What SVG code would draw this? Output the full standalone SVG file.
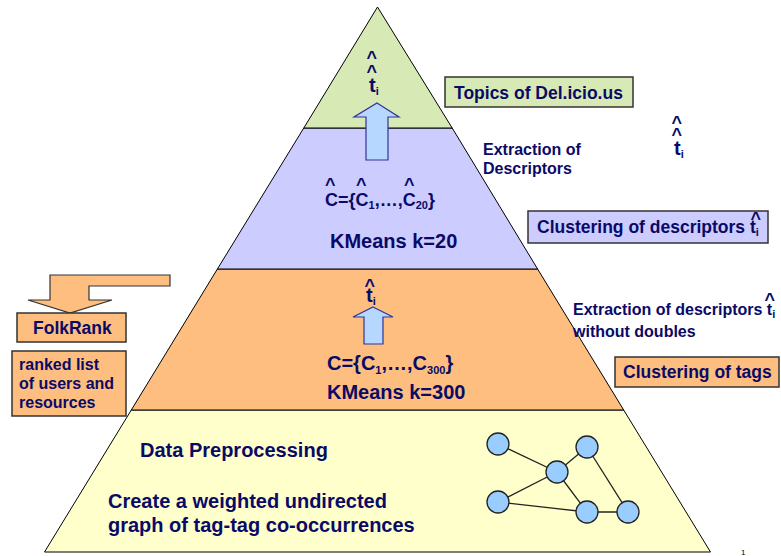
<svg xmlns="http://www.w3.org/2000/svg" width="781" height="556" viewBox="0 0 781 556">
<defs>
<style>
text{font-family:"Liberation Sans",Arial,sans-serif;font-weight:bold;fill:#0a0a66}
.layer{stroke:#000;stroke-width:1}
.box{stroke:#333;stroke-width:1.5}
.barrow{fill:#b6d7ff;stroke:#333399;stroke-width:1.2}
.lbl{font-size:17.5px}
.sm{font-size:16px}
.big{font-size:20px}
.hat{font-size:18px}
.sub{font-size:11px}
.edge{stroke:#222;stroke-width:1.3;fill:none}
.gnode{fill:#99ccff;stroke:#222;stroke-width:1.3}
</style>
</defs>
<rect width="781" height="556" fill="#fff"/>

<g id="layer-yellow">
<polygon class="layer" points="131.3,410 623.7,410 710.5,552 44.5,552" fill="#ffffcc"/>
<text class="big" x="140" y="457">Data Preprocessing</text>
<text class="big" x="108" y="508">Create a weighted undirected</text>
<text class="big" x="108" y="532">graph of tag-tag co-occurrences</text>
</g>

<g id="layer-orange">
<polygon class="layer" points="217.4,269 537.6,269 623.7,410 131.3,410" fill="#fdbe80"/>
<text class="big"><tspan class="hat" x="364.5" y="292">^</tspan><tspan x="366" y="302">t</tspan><tspan class="sub" dy="3">i</tspan></text>
<path class="barrow" d="M373,307 L393,317 L383,317 L383,344 L364,344 L364,317 L353,317 Z"/>
<text class="big" x="327" y="370">C={C<tspan class="sub" dy="4">1</tspan><tspan dy="-4">,…,C</tspan><tspan class="sub" dy="4">300</tspan><tspan dy="-4">}</tspan></text>
<text class="big" x="327" y="399">KMeans k=300</text>
</g>

<g id="layer-purple">
<polygon class="layer" points="303.8,128 452.2,128 537.6,269 217.4,269" fill="#ccccff"/>
<text style="font-size:18px"><tspan class="hat" x="325" y="191">^</tspan><tspan class="hat" x="356" y="191">^</tspan><tspan class="hat" x="404" y="191">^</tspan><tspan x="325" y="206">C={C</tspan><tspan class="sub" dy="3">1</tspan><tspan dy="-3">,…,C</tspan><tspan class="sub" dy="3">20</tspan><tspan dy="-3">}</tspan></text>
<text class="big" x="330" y="248">KMeans k=20</text>
</g>

<g id="layer-green">
<polygon class="layer" points="377.5,7 452.2,128 303.8,128" fill="#d7e9b5"/>
<text class="big"><tspan class="hat" x="366.5" y="64">^</tspan><tspan class="hat" x="366.5" y="78">^</tspan><tspan x="369" y="92">t</tspan><tspan class="sub" dy="3">i</tspan></text>
</g>

<g id="arrow-top">
<path class="barrow" d="M377,103 L399,117 L388,117 L388,160 L366,160 L366,117 L354,117 Z"/>
</g>

<g id="topics">
<rect class="box" x="445" y="77" width="188" height="30" fill="#d7e9b5"/>
<text class="lbl" x="454" y="99">Topics of Del.icio.us</text>
</g>

<g id="extraction-descriptors">
<text class="sm" x="483" y="155">Extraction of</text>
<text class="sm" x="483" y="174">Descriptors</text>
</g>

<g id="t-hat-right">
<text class="big"><tspan class="hat" x="671.5" y="129">^</tspan><tspan class="hat" x="671.5" y="141">^</tspan><tspan x="674" y="155">t</tspan><tspan class="sub" dy="3">i</tspan></text>
</g>

<g id="clustering-descriptors">
<rect class="box" x="528" y="211" width="240" height="32" fill="#ccccff"/>
<text class="lbl" x="537" y="233">Clustering of descriptors t<tspan class="sub" dy="3">i</tspan><tspan class="hat" x="750.5" y="225">^</tspan></text>
</g>

<g id="extraction-doubles">
<text class="sm" x="573" y="315">Extraction of descriptors t<tspan class="sub" dy="3">i</tspan><tspan class="hat" x="764.5" y="306">^</tspan></text>
<text class="sm" x="573" y="337">without doubles</text>
</g>

<g id="clustering-tags">
<rect class="box" x="615" y="357" width="164" height="30" fill="#fdbe80"/>
<text class="lbl" x="623" y="378">Clustering of tags</text>
</g>

<g id="folkrank-arrow">
<path d="M170,275 L50,275 L50,300 L28,300 L70,313 L112,300 L89,300 L89,286 L170,286 Z" fill="#fdbe80" stroke="#333" stroke-width="1.2"/>
</g>

<g id="folkrank">
<rect class="box" x="17" y="313" width="109" height="29" fill="#fdbe80"/>
<text class="lbl" x="33" y="334">FolkRank</text>
</g>

<g id="ranked-list">
<rect class="box" x="12" y="351" width="114" height="65" fill="#fdbe80"/>
<text class="sm" x="19" y="370">ranked list</text>
<text class="sm" x="19" y="389">of users and</text>
<text class="sm" x="19" y="408">resources</text>
</g>

<g id="connectors">
<line class="edge" x1="498" y1="444" x2="557" y2="472"/>
<line class="edge" x1="557" y1="472" x2="587" y2="447"/>
<line class="edge" x1="557" y1="472" x2="498" y2="502"/>
<line class="edge" x1="557" y1="472" x2="587" y2="512"/>
<line class="edge" x1="498" y1="502" x2="587" y2="512"/>
<line class="edge" x1="587" y1="512" x2="628" y2="512"/>
<line class="edge" x1="587" y1="447" x2="628" y2="512"/>
</g>

<g id="graph-nodes">
<circle id="n1" class="gnode" cx="498" cy="444" r="11"/>
<circle id="n2" class="gnode" cx="587" cy="447" r="11"/>
<circle id="n3" class="gnode" cx="557" cy="472" r="11"/>
<circle id="n4" class="gnode" cx="498" cy="502" r="11"/>
<circle id="n5" class="gnode" cx="587" cy="512" r="11"/>
<circle id="n6" class="gnode" cx="628" cy="512" r="11"/>
</g>

<g id="page-number">
<text x="741" y="555" style="font-size:8px;font-weight:normal;fill:#000">1</text>
</g>
</svg>
